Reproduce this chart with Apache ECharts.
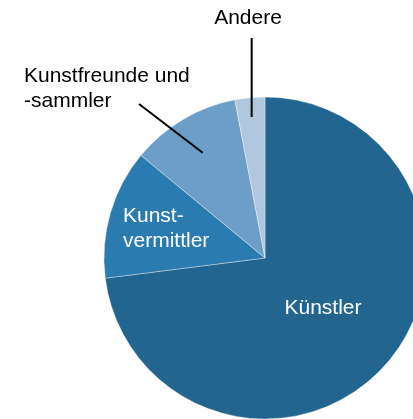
<!DOCTYPE html>
<html>
<head>
<meta charset="utf-8">
<script src="https://cdn.jsdelivr.net/npm/echarts@6/dist/echarts.min.js"></script>
<style>
  html, body { margin: 0; padding: 0; background: #fff; }
  #main { width: 413px; height: 419px; }
</style>
</head>
<body>
<div id="main"></div>
<script>
// Anteile in Prozent (aus dem Bild geschätzt)
const categories = ["Künstler", "Kunst-\nvermittler", "Kunstfreunde und\n-sammler", "Andere"];
const values = [73, 13, 11, 3];
const colors = ["#22668f", "#2a7baf", "#6c9ec7", "#b1c7de"];

const cx = 265, cy = 258, r = 161;

// Winkel der Segmentmitte (im Uhrzeigersinn ab 12 Uhr)
function midAngle(i) {
  let total = 0, before = 0;
  for (let k = 0; k < values.length; k++) {
    total += values[k];
    if (k < i) before += values[k];
  }
  return (before + values[i] / 2) / total * 2 * Math.PI;
}

function innerPoint(i, f) {
  let a = midAngle(i);
  return [cx + r * f * Math.sin(a), cy - r * f * Math.cos(a)];
}

let myChart = echarts.init(document.getElementById("main"));

const labelFont = {
  fontFamily: "Liberation Sans, Arial, sans-serif",
  fontSize: 21,
  lineHeight: 25
};

// Segmente + Beschriftung innen
let sectorData = categories.map((name, i) => ({
  name: name,
  value: values[i],
  itemStyle: { color: colors[i] },
  label: { show: i < 2 }
}));

// transparente Kopie obendrauf, nur für Außenbeschriftung mit Linien
let outerData = categories.map((name, i) => ({
  name: name,
  value: values[i],
  label: { show: i >= 2 },
  labelLine: { show: i >= 2 }
}));

let option = {
  animation: false,
  series: [{
    type: "pie",
    center: [cx, cy],
    radius: r,
    startAngle: 90,
    clockwise: true,
    avoidLabelOverlap: false,
    emphasis: { disabled: true },
    itemStyle: { borderColor: "rgba(255,255,255,0.35)", borderWidth: 1 },
    label: Object.assign({ position: "inside", color: "#fff", formatter: "{b}" }, labelFont),
    labelLayout: params => {
      if (params.dataIndex === 0) {
        return { x: 323, y: 308, align: "center", verticalAlign: "middle" };
      }
      return { x: 123, y: 229, align: "left", verticalAlign: "middle" };
    },
    data: sectorData
  }, {
    type: "pie",
    center: [cx, cy],
    radius: r,
    startAngle: 90,
    clockwise: true,
    silent: true,
    z: 5,
    avoidLabelOverlap: false,
    emphasis: { disabled: true },
    itemStyle: { color: "rgba(0,0,0,0)" },
    label: Object.assign({ position: "outside", color: "#000", formatter: "{b}" }, labelFont),
    labelLine: { lineStyle: { color: "#000", width: 2 } },
    labelLayout: params => {
      let i = params.dataIndex;
      if (i === 2) {
        let p = innerPoint(2, 0.76);
        return {
          x: 24, y: 89, align: "left", verticalAlign: "middle",
          labelLinePoints: [[139, 104], [139, 104], p]
        };
      }
      let p = innerPoint(3, 0.88);
      return {
        x: 248, y: 18, align: "center", verticalAlign: "middle",
        labelLinePoints: [[p[0], 38], [p[0], 38], p]
      };
    },
    data: outerData
  }]
};

myChart.setOption(option);
</script>
</body>
</html>
